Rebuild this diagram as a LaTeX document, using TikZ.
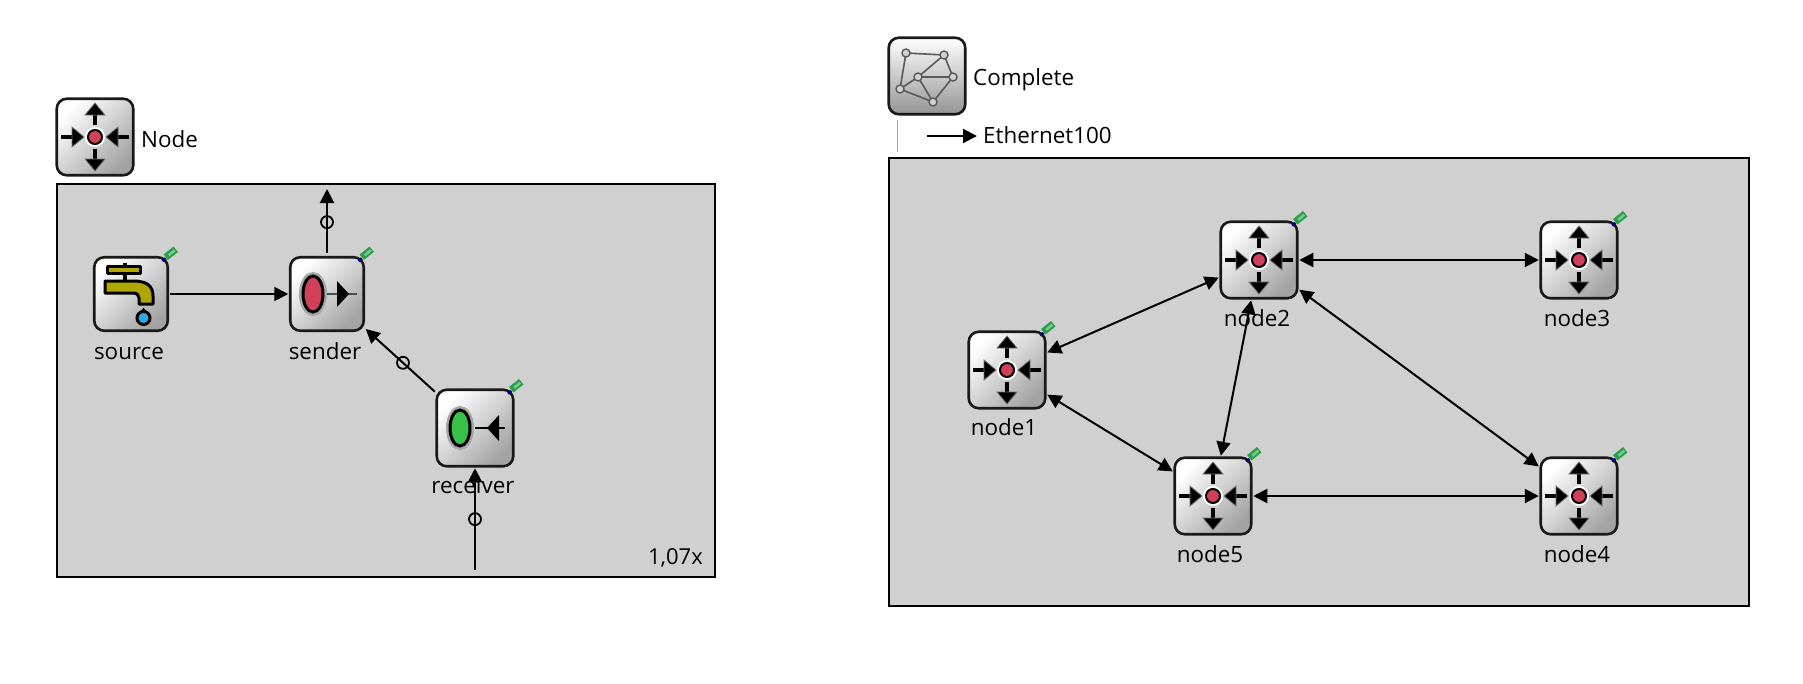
\documentclass[tikz,border=0pt]{standalone}
\usepackage{fontspec}
\setmainfont{Open Sans}
\usetikzlibrary{arrows.meta}
\definecolor{canvasgray}{HTML}{D0D0D0}
\definecolor{dotred}{HTML}{D04058}
\definecolor{lampgreen}{HTML}{38C048}
\definecolor{tapolive}{HTML}{B0A800}
\definecolor{dropblue}{HTML}{30A8E8}
\definecolor{pingreen}{HTML}{28A048}
\tikzset{
 frameline/.style={line width=2.4pt,draw=black},
 canvasfill/.style={fill=canvasgray},
 iconbox/.style={draw=black!90,line width=2.6pt,rounded corners=10pt,minimum size=76.5pt,inner sep=0pt,outer sep=2pt,top color=white,bottom color=black!36,shading angle=45},
 smallbox/.style={iconbox,minimum size=73.5pt},
 titletext/.style={anchor=base west,inner sep=0pt,font=\fontsize{22.4}{26}\selectfont},
 nodelabel/.style={anchor=base,inner sep=0pt,font=\fontsize{22.4}{26}\selectfont},
 link/.style={line width=2pt,-{Triangle[length=14pt,width=14pt]}},
 duplex/.style={line width=2pt,{Triangle[length=14pt,width=14pt]}-{Triangle[length=14pt,width=14pt]}},
 ringmark/.style={circle,draw=black,line width=1.8pt,minimum size=12pt,inner sep=0pt},
 glyphline/.style={line width=4.4pt,draw=black},
 glyphhead/.style={fill=black,draw=black!55,line width=.8pt},
 routerglyph/.pic={
  \draw[glyphline] (0,-12)--(0,-24);
  \fill[glyphhead] (0,-34)--(-10,-22)--(10,-22)--cycle;
  \draw[glyphline] (0,12)--(0,24);
  \fill[glyphhead] (0,34)--(-10,22)--(10,22)--cycle;
  \draw[glyphline] (-34,0)--(-22,0);
  \fill[glyphhead] (-11,0)--(-23,-10)--(-23,10)--cycle;
  \draw[glyphline] (34,0)--(22,0);
  \fill[glyphhead] (11,0)--(23,-10)--(23,10)--cycle;
  \draw[draw=white,line width=2pt] (0,0) circle (9);
  \draw[fill=dotred,draw=black,line width=2pt] (0,0) circle (7);
 },
 senderglyph/.pic={
  \draw[black!70,line width=2.5pt] (0,0)--(30,0);
  \fill[black] (22,0)--(10,-13)--(10,13)--cycle;
  \draw[black!35,line width=6pt] (-14,0) ellipse (11 and 19);
  \draw[fill=dotred,draw=black,line width=3pt] (-14,0) ellipse (10 and 18);
 },
 receiverglyph/.pic={
  \draw[black,line width=2pt] (0,0)--(30,0);
  \fill[black] (12,0)--(24,-13)--(24,13)--cycle;
  \draw[black!35,line width=6pt] (-15,0) ellipse (11 and 19);
  \draw[fill=lampgreen,draw=black,line width=3pt] (-15,0) ellipse (10 and 18);
 },
 sourceglyph/.pic={
  \draw[black,line width=4pt] (-6.5,-31)--(-6.5,-10);
  \draw[fill=tapolive,draw=black,line width=3pt,line join=round] (-24,-28)--(9,-28)--(9,-21)--(-24,-21)--cycle;
  \draw[fill=tapolive,draw=black,line width=3pt,line join=round] (-26,-13)--(2,-13) .. controls (16,-13) and (22,-8) .. (22,2)--(22,10)--(8,10)--(8,4) .. controls (8,1) and (6,-1) .. (2,-1)--(-26,-1)--cycle;
  \draw[fill=black] (12.5,14)--(7,22)--(18,22)--cycle;
  \draw[fill=dropblue,draw=black,line width=3pt] (12.5,24) circle (6.5);
 },
 networkglyph/.pic={
  \coordinate (A) at (-21,-23);
  \coordinate (B) at (17,-21);
  \coordinate (C) at (-9,1);
  \coordinate (D) at (26,1);
  \coordinate (E) at (-27,13);
  \coordinate (F) at (6,26);
  \draw[black!65,line width=1.6pt] (A)--(B) (A)--(E) (B)--(C) (B)--(D) (C)--(D) (C)--(E) (C)--(F) (D)--(F) (E)--(F);
  \draw[fill=black!18,draw=black!65,line width=1.4pt] (A) circle (4);
  \draw[fill=black!18,draw=black!65,line width=1.4pt] (B) circle (4);
  \draw[fill=black!18,draw=black!65,line width=1.4pt] (C) circle (4);
  \draw[fill=black!18,draw=black!65,line width=1.4pt] (D) circle (4);
  \draw[fill=black!18,draw=black!65,line width=1.4pt] (E) circle (4);
  \draw[fill=black!18,draw=black!65,line width=1.4pt] (F) circle (4);
 },
 pinmark/.pic={
  \draw[pingreen,line width=7pt] (-4,2)--(6,-6);
  \draw[pingreen!60!white,line width=2.5pt] (-1,0)--(5,-5);
  \draw[blue!50!black,line width=2.5pt] (-7,6)--(-4,3);
 },
}
\begin{document}
\begin{tikzpicture}[x=1pt,y=-1pt]
 \useasboundingbox (0,0) rectangle (1803,683);
 % left module
 \node[iconbox] (nodeicon) at (95,137) {};
 \pic at (nodeicon) {routerglyph};
 \node[titletext] (nodetitle) at (141,147) {Node};
 \fill[white] (57,184) rectangle (715,577);
 \fill[canvasfill] (57,184) rectangle (713.5,575.5);
 \draw[frameline] (57,184) rectangle (715,577);
 \node[smallbox] (source) at (131,294) {};
 \node[smallbox] (sender) at (327,294) {};
 \node[iconbox] (receiver) at (475,428) {};
 \pic at (source) {sourceglyph};
 \pic at (sender) {senderglyph};
 \pic at (receiver) {receiverglyph};
 \pic at (source.north east) {pinmark};
 \pic at (sender.north east) {pinmark};
 \pic at (receiver.north east) {pinmark};
 \coordinate (senderout) at (327,189);
 \coordinate (receiverin) at (475,570);
 \draw[link] (source) -- (sender);
 \draw[link,shorten <=2pt] (sender) -- node[ringmark] (senderring) {} (senderout);
 \draw[link] (receiver) -- node[ringmark,pos=.46] (backring) {} (sender);
 \draw[link] (receiverin) -- node[ringmark,pos=.5] (receiverring) {} (receiver);
 \node[nodelabel] (sourcelabel) at (129,359) {source};
 \node[nodelabel] (senderlabel) at (325,359) {sender};
 \node[nodelabel] (receiverlabel) at (473,493) {receiver};
 \node[anchor=base east,inner sep=0pt,font=\fontsize{22}{26}\selectfont] (zoomlabel) at (703,564) {1,07x};
 % right network
 \node[iconbox,bottom color=black!42] (completeicon) at (927,76) {};
 \pic at (completeicon) {networkglyph};
 \node[titletext] (completetitle) at (973,85) {Complete};
 \coordinate (ruletop) at (897,120);
 \coordinate (rulebottom) at (897,152);
 \draw[black!35,line width=1pt] (ruletop) -- (rulebottom);
 \coordinate (legendfrom) at (927,136);
 \coordinate (legendto) at (977,136);
 \draw[link] (legendfrom) -- (legendto);
 \node[titletext] (legendtext) at (983,143) {Ethernet100};
 \fill[white] (889,158) rectangle (1749,606);
 \fill[canvasfill] (889,158) rectangle (1747.5,604.5);
 \draw[frameline] (889,158) rectangle (1749,606);
 \node[iconbox] (node1) at (1007,370) {};
 \node[iconbox] (node2) at (1259,260) {};
 \node[iconbox] (node3) at (1579,260) {};
 \node[iconbox] (node4) at (1579,496) {};
 \node[iconbox] (node5) at (1213,496) {};
 \pic at (node1) {routerglyph};
 \pic at (node2) {routerglyph};
 \pic at (node3) {routerglyph};
 \pic at (node4) {routerglyph};
 \pic at (node5) {routerglyph};
 \pic at (node1.north east) {pinmark};
 \pic at (node2.north east) {pinmark};
 \pic at (node3.north east) {pinmark};
 \pic at (node4.north east) {pinmark};
 \pic at (node5.north east) {pinmark};
 \draw[duplex] (node1) -- (node2);
 \draw[duplex] (node1) -- (node5);
 \draw[duplex] (node2) -- (node3);
 \draw[duplex] (node2) -- (node5);
 \draw[duplex] (node2) -- (node4);
 \draw[duplex] (node5) -- (node4);
 \node[nodelabel] (node1label) at (1004,435) {node1};
 \node[nodelabel] (node2label) at (1257,326) {node2};
 \node[nodelabel] (node3label) at (1577,326) {node3};
 \node[nodelabel] (node4label) at (1577,562) {node4};
 \node[nodelabel] (node5label) at (1210,562) {node5};
\end{tikzpicture}
\end{document}
